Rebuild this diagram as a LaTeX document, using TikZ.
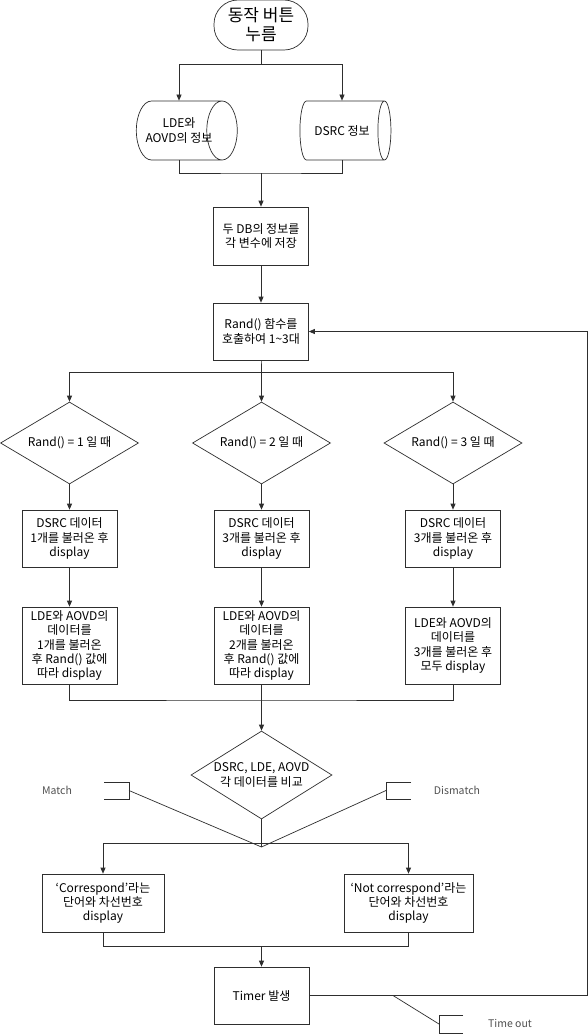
\documentclass[tikz,border=0pt]{standalone}
\usepackage{fontspec}
\setmainfont{Noto Sans CJK KR}
\usepackage{tikz}
\usetikzlibrary{shapes.geometric, arrows.meta, positioning, calc}
\definecolor{LineGray}{HTML}{2E2E2E}
\definecolor{NoteGray}{HTML}{505050}
\tikzset{
  termbox/.style={rectangle, rounded corners=24pt, draw=LineGray, line width=0.7pt, minimum width=94pt, minimum height=50pt, font=\fontsize{17}{19}\selectfont, align=center, inner sep=0pt},
  dbcyl/.style={cylinder, draw=LineGray, line width=0.7pt, aspect=1.2, minimum height=91pt, minimum width=59pt, font=\fontsize{12}{14.5}\selectfont, align=center, inner sep=0pt},
  procbox/.style={rectangle, draw=LineGray, line width=0.7pt, minimum width=95pt, minimum height=57pt, font=\fontsize{12}{14.3}\selectfont, align=center, inner sep=0pt},
  decbox/.style={diamond, draw=LineGray, line width=0.7pt, aspect=1.7, minimum width=138pt, minimum height=82pt, font=\fontsize{12}{14.3}\selectfont, align=center, inner sep=0pt},
  notelabel/.style={font=\fontsize{10.5}{12}\selectfont, text=NoteGray},
  line/.style={line width=0.7pt, LineGray},
  arrow/.style={-{Triangle[length=6pt,width=5pt]}, line width=0.7pt, LineGray}
}

\begin{document}
\begin{tikzpicture}[x=1pt, y=-1pt]
  \fill[white] (0,0) rectangle (588,1034);
  \useasboundingbox (0,0) rectangle (588,1034);

  \node[termbox] (start) at (261,25) {동작 버튼\\누름};
  \node[dbcyl, inner xsep=-6pt] (ldedb) at (179,130.5) {LDE와\\AOVD의 정보};
  \node[dbcyl] (dsrcdb) at (342,130.5) {DSRC 정보};
  \node[procbox, minimum height=58pt] (store) at (261,236) {두 DB의 정보를\\각 변수에 저장};
  \node[procbox] (rand) at (261,331.5) {Rand() 함수를\\호출하여 1\textasciitilde3대};

  \node[decbox] (case1) at (69.5,443) {Rand() = 1 일 때};
  \node[decbox] (case2) at (261.5,443) {Rand() = 2 일 때};
  \node[decbox] (case3) at (453,443) {Rand() = 3 일 때};

  \node[procbox] (show1) at (69.5,538.5) {DSRC 데이터\\1개를 불러온 후\\display};
  \node[procbox] (show2) at (261.5,538.5) {DSRC 데이터\\3개를 불러온 후\\display};
  \node[procbox] (show3) at (453,538.5) {DSRC 데이터\\3개를 불러온 후\\display};

  \node[procbox, minimum height=77pt] (load1) at (69.5,645.5) {LDE와 AOVD의\\데이터를\\1개를 불러온\\후 Rand() 값에\\따라 display};
  \node[procbox, minimum height=77pt] (load2) at (261.5,645.5) {LDE와 AOVD의\\데이터를\\2개를 불러온\\후 Rand() 값에\\따라 display};
  \node[procbox, minimum height=77pt] (load3) at (453,645.5) {LDE와 AOVD의\\데이터를\\3개를 불러온 후\\모두 display};

  \node[decbox, minimum width=141pt, minimum height=88pt] (cmp) at (261.5,775) {};
  \node[font=\fontsize{12}{14.3}\selectfont, align=center] (cmptext) at (cmp) {DSRC, LDE, AOVD\\각 데이터를 비교};

  \node[procbox, minimum width=122pt, minimum height=58pt] (ok) at (103,903) {`Correspond'라는\\단어와 차선번호\\display};
  \node[procbox, minimum width=129pt, minimum height=58pt] (ng) at (408.5,903) {`Not correspond'라는\\단어와 차선번호\\display};
  \node[procbox] (timer) at (261.5,995.5) {Timer 발생};

  \node[notelabel] (matchlbl) at (57,790) {Match};
  \node[notelabel] (dislbl) at (457,790) {Dismatch};
  \node[notelabel] (tolbl) at (510,1023) {Time out};

  \coordinate (j1) at (261,64);
  \coordinate (j2) at (261,173);
  \coordinate (j3) at (261.5,372);
  \coordinate (j4) at (261.5,700);
  \coordinate (j5) at (261.5,843);
  \coordinate (tip) at (261.5,847);
  \coordinate (j6) at (261.5,946);
  \coordinate (fb) at (587,995.5);
  \coordinate (tobase) at (393,995.5);

  \draw[line] (start) -- (j1);
  \draw[arrow] (j1) -| (ldedb.north);
  \draw[arrow] (j1) -| (dsrcdb.north);
  \draw[line] (ldedb.south) |- (j2) -| (dsrcdb.south);
  \draw[arrow] (j2) -- (store);
  \draw[arrow] (store) -- (rand);

  \draw[line] (rand) -- (j3);
  \draw[arrow] (j3) -| (case1);
  \draw[arrow] (j3) -- (case2);
  \draw[arrow] (j3) -| (case3);
  \foreach \i in {1,2,3} {
    \draw[arrow] (case\i) -- (show\i);
    \draw[arrow] (show\i) -- (load\i);
  }
  \draw[line] (load1) |- (j4) -| (load3);
  \draw[line] (load2) -- (j4);
  \draw[arrow] (j4) -- (cmp);

  \draw[line] (cmp) -- (tip);
  \draw[arrow] (j5) -| (ok);
  \draw[arrow] (j5) -| (ng);
  \draw[line] (ok) |- (j6) -| (ng);
  \draw[arrow] (j6) -- (timer);
  \draw[arrow] (timer) -- (fb) |- (rand.east);

  % note brackets
  \draw[line] (104,782) -- (129,782) -- (129,799) -- (104,799);
  \coordinate (matchpt) at (129,790.5);
  \draw[line] (matchpt) -- (tip);
  \draw[line] (411,782) -- (386,782) -- (386,799) -- (411,799);
  \coordinate (dispt) at (386,790.5);
  \draw[line] (dispt) -- (tip);
  \draw[line] (463,1015) -- (439,1015) -- (439,1033) -- (463,1033);
  \coordinate (topt) at (439,1024);
  \draw[line] (tobase) -- (topt);
\end{tikzpicture}
\end{document}
